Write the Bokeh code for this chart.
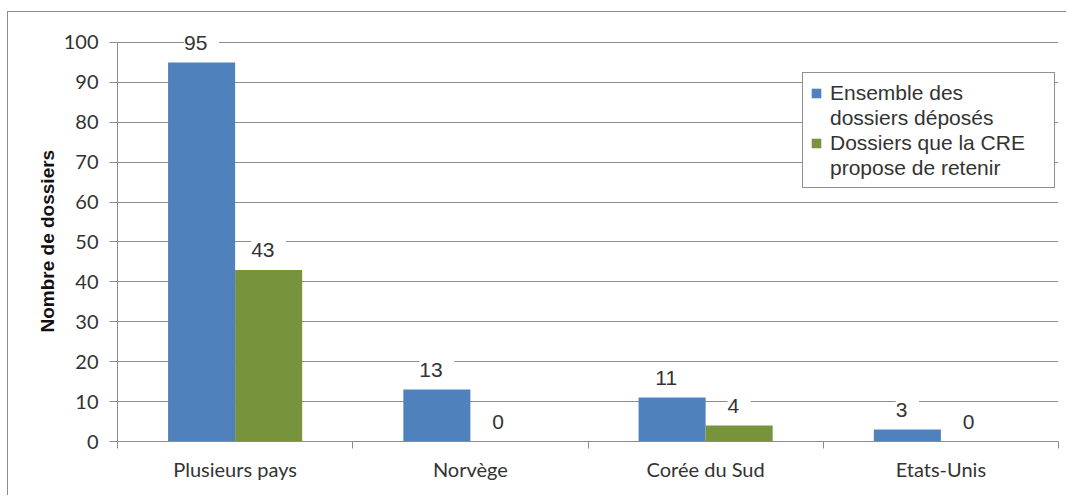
from bokeh.plotting import figure
from bokeh.models import (ColumnDataSource, FixedTicker, LabelSet, Legend, LegendItem,
                          Range1d, Title)
from bokeh.core.properties import value
from bokeh.embed import file_html
from bokeh.resources import INLINE

categories = ["Plusieurs pays", "Norvège", "Corée du Sud", "Etats-Unis"]
ensemble = [95, 13, 11, 3]
retenus = [43, 0, 4, 0]
series_lines = [["Ensemble des", "dossiers déposés"],
                ["Dossiers que la CRE", "propose de retenir"]]
y_title = "Nombre de dossiers"
y_ticks = list(range(0, 101, 10))

BLUE = "#4F81BD"
GREEN = "#77933C"
GRID = "#8C8C8C"
TXT = "#333333"

centers = [i + 0.5 for i in range(len(categories))]
bw = 0.285
src = ColumnDataSource(dict(
    xb=[c - bw / 2 for c in centers], xg=[c + bw / 2 for c in centers],
    yb=ensemble, yg=retenus,
    lb=[" %d " % v for v in ensemble], lg=[" %d " % v for v in retenus],
))

p = figure(output_backend="svg", toolbar_location=None,
           x_range=Range1d(0, len(categories)), y_range=Range1d(0, 105),
           min_border_left=109, min_border_right=8, min_border_top=10, min_border_bottom=54,
           frame_width=941, frame_height=419,
           styles={"border-top": "1px solid #8C8C8C", "border-left": "1px solid #8C8C8C",
                   "margin-top": "11px", "margin-left": "7px"})
p.outline_line_color = None
p.background_fill_color = "white"
p.border_fill_color = "white"

rb = p.vbar(x="xb", top="yb", width=bw, bottom=0, source=src, fill_color=BLUE, line_color=None)
rg = p.vbar(x="xg", top="yg", width=bw, bottom=0, source=src, fill_color=GREEN, line_color=None)
# empty, invisible renderer used for the legend's continuation lines
blank = p.vbar(x=[], top=[], width=bw, fill_alpha=0, line_alpha=0)

for col_x, col_y, col_l in (("xb", "yb", "lb"), ("xg", "yg", "lg")):
    ls = LabelSet(x=col_x, y=col_y, text=col_l, source=src, y_offset=20,
                  text_align="center", text_baseline="middle",
                  text_font=value("Liberation Sans"), text_font_size="21px", text_color=TXT,
                  background_fill_color="white")
    p.add_layout(ls)

# y axis
p.yaxis.ticker = FixedTicker(ticks=y_ticks)
p.yaxis.bounds = (0, 100)
p.yaxis.axis_line_color = GRID
p.yaxis.major_tick_line_color = GRID
p.yaxis.major_tick_out = 8
p.yaxis.major_tick_in = 0
p.yaxis.minor_tick_line_color = None
p.yaxis.major_label_standoff = 11
p.yaxis.major_label_text_font = "Lato"
p.yaxis.major_label_text_font_size = "20px"
p.yaxis.major_label_text_color = TXT

ytitle = Title(text=y_title, align="left", offset=109, standoff=6,
               text_font="Liberation Sans", text_font_style="bold",
               text_font_size="19px", text_color="#111111")
p.add_layout(ytitle, "left")

# x axis
p.xaxis.ticker = FixedTicker(ticks=centers, minor_ticks=list(range(len(categories) + 1)))
p.xaxis.major_label_overrides = {c: name for c, name in zip(centers, categories)}
p.xaxis.axis_line_color = GRID
p.xaxis.major_tick_line_color = None
p.xaxis.minor_tick_line_color = GRID
p.xaxis.minor_tick_out = 7
p.xaxis.minor_tick_in = 0
p.xaxis.major_label_standoff = 8
p.xaxis.major_label_text_font = "Lato"
p.xaxis.major_label_text_font_size = "20px"
p.xaxis.major_label_text_color = TXT

p.xgrid.grid_line_color = None
p.ygrid.ticker = FixedTicker(ticks=y_ticks)
p.ygrid.grid_line_color = GRID
p.ygrid.grid_line_width = 1

items = []
for r, lines in ((rb, series_lines[0]), (rg, series_lines[1])):
    items.append(LegendItem(label=lines[0], renderers=[r]))
    items.append(LegendItem(label=lines[1], renderers=[blank]))
legend = Legend(items=items, location=(685, 253))
legend.border_line_color = "#222222"
legend.border_line_width = 1
legend.background_fill_color = "white"
legend.background_fill_alpha = 1
legend.padding = 7
legend.spacing = 0
legend.glyph_width = 12
legend.glyph_height = 12
legend.label_height = 25
legend.label_width = 217
legend.label_standoff = 8
legend.label_text_font = "Liberation Sans"
legend.label_text_font_size = "21px"
legend.label_text_line_height = 1.2
legend.label_text_color = TXT
p.add_layout(legend)

open("out.html", "w").write(file_html(p, INLINE))
